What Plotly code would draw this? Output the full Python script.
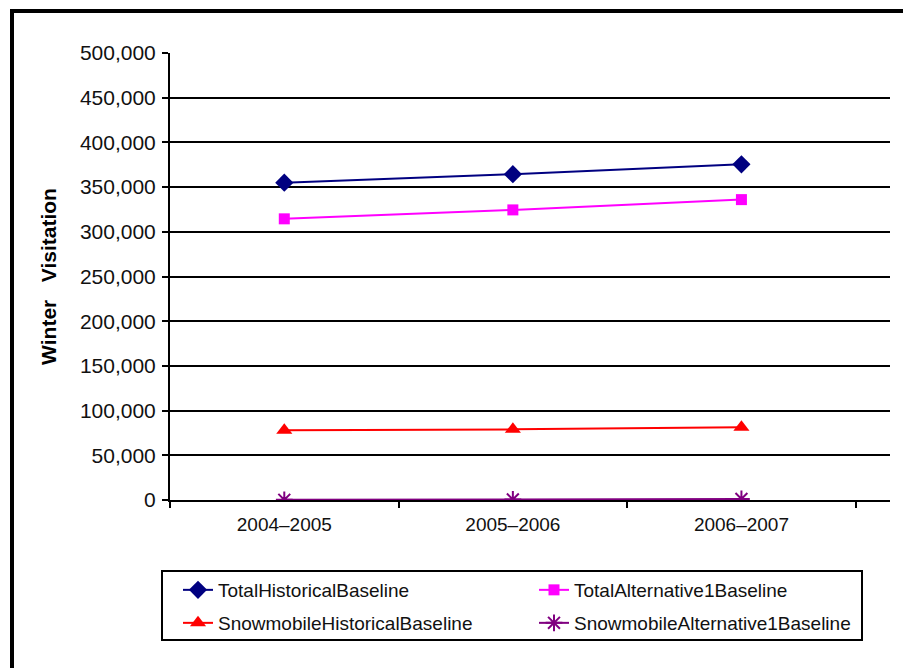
import plotly.graph_objects as go

categories = ["2004–2005", "2005–2006", "2006–2007"]
total_hist = [355000, 364500, 375500]
total_alt1 = [314500, 324500, 336000]
snow_hist = [78000, 79000, 81300]
snow_alt1 = [200, 600, 1200]
y_ticks = list(range(0, 500001, 50000))
y_tick_text = ["0"] + [f"{v:,}" for v in y_ticks[1:]]

series = [
    ("TotalHistoricalBaseline", total_hist, "#000080", "diamond", 14, "legend"),
    ("TotalAlternative1Baseline", total_alt1, "#FF00FF", "square", 11, "legend"),
    ("SnowmobileHistoricalBaseline", snow_hist, "#FF0000", "triangle-up", 14, "legend2"),
    ("SnowmobileAlternative1Baseline", snow_alt1, "#800080", "asterisk-open", 14, "legend2"),
]

fig = go.Figure()
for name, vals, color, sym, size, lg in series:
    marker = dict(symbol=sym, size=size, color=color)
    if sym == "asterisk-open":
        marker["line"] = dict(color=color, width=2)
    fig.add_trace(go.Scatter(
        x=categories, y=vals, name=name, mode="lines+markers",
        line=dict(color=color, width=2), marker=marker, legend=lg,
    ))

W, H = 903, 668
L, R, T, B = 170, 13, 53, 168
pw, ph = W - L - R, H - T - B

def px2x(x):
    return (x - L) / pw

def px2y(y):
    return (H - B - y) / ph

legend_common = dict(
    orientation="h", xanchor="left", yanchor="middle",
    entrywidth=311, entrywidthmode="pixels",
    borderwidth=0, bgcolor="rgba(0,0,0,0)",
    font=dict(size=19, color="#111"),
)

fig.update_layout(
    width=W, height=H,
    margin=dict(l=L, r=R, t=T, b=B),
    paper_bgcolor="white", plot_bgcolor="white",
    font=dict(family="Liberation Sans, Arial", color="black"),
    showlegend=True,
    legend=dict(x=px2x(178), y=px2y(590), **legend_common),
    legend2=dict(x=px2x(178), y=px2y(623), **legend_common),
    xaxis=dict(
        type="category", range=[-0.5, 2.65], tickson="boundaries",
        showgrid=False, showline=True, linecolor="black", linewidth=2,
        ticks="outside", ticklen=6, tickwidth=2, tickcolor="black",
        tickfont=dict(size=19, color="#111"), zeroline=False,
        ticklabelstandoff=6,
    ),
    yaxis=dict(
        range=[0, 500000], tickvals=y_ticks, ticktext=y_tick_text,
        showgrid=True, gridcolor="black", gridwidth=2,
        showline=True, linecolor="black", linewidth=2,
        ticks="outside", ticklen=6, tickwidth=2, tickcolor="black",
        tickfont=dict(size=21, color="#111"), zeroline=False,
        ticklabelstandoff=2,
        title=dict(text="<b>Winter   Visitation</b>",
                   font=dict(size=21, color="black"), standoff=18),
    ),
    shapes=[
        dict(type="rect", xref="paper", yref="paper",
             x0=px2x(12), y0=px2y(675), x1=px2x(910), y1=px2y(11),
             line=dict(color="black", width=4), layer="above"),
        dict(type="rect", xref="paper", yref="paper",
             x0=px2x(162), y0=px2y(640), x1=px2x(862), y1=px2y(571),
             line=dict(color="black", width=2), layer="above"),
    ],
)

fig.write_html("out.html", config={"displayModeBar": False},
               post_script="document.body.style.margin='0';")
